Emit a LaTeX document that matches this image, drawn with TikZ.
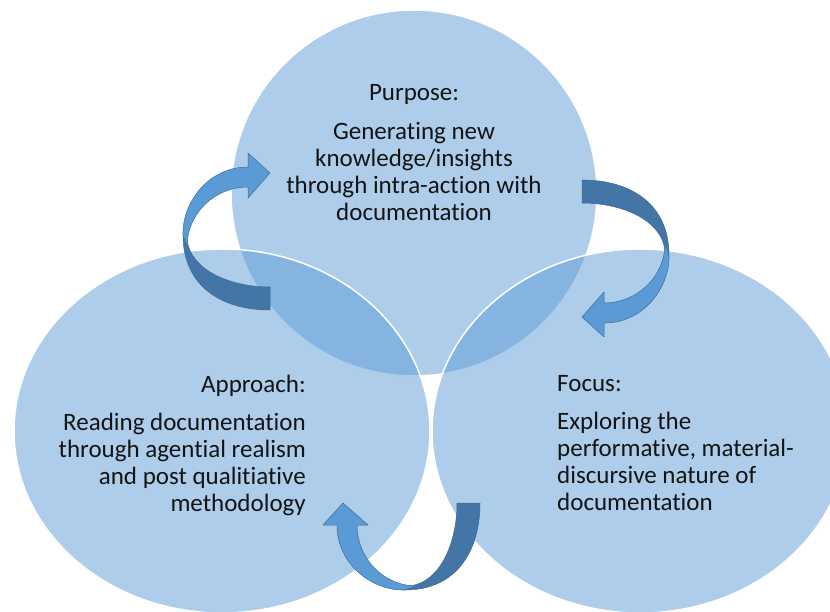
\documentclass[tikz,border=0pt]{standalone}
\usepackage{fontspec}
\setmainfont{Carlito}[Ligatures=NoCommon]
\definecolor{accent}{RGB}{91, 155, 213}
\definecolor{arrowlight}{RGB}{91, 155, 213}
\definecolor{arrowdark}{RGB}{67, 117, 166}
\definecolor{arrowedge}{RGB}{60, 108, 152}
\definecolor{ink}{RGB}{20, 20, 20}
\def\rtop{183pt}
\def\rxlow{208pt}
\def\rylow{182pt}
\tikzset{
  venn/.style={fill=accent, fill opacity=0.5, draw=white, line width=1.5pt},
  blurb/.style={inner sep=0pt, text=ink, font=\fontsize{25}{27}\selectfont,
    execute at begin node={\rule{0pt}{20pt}}},
  pics/turnarrow/.style={code={
    \path[fill=arrowdark, draw=arrowedge, line width=0.5pt] (0, 137)
      .. controls (-50, 137) and (-87, 112) .. (-87, 62) --
      (-83, 66) .. controls (-80, 97) and (-40, 114) .. (0, 114) -- cycle;
    \path[fill=arrowlight, draw=arrowedge, line width=0.5pt] (-87, 62)
      .. controls (-88, 30) and (-62, -6) .. (-22, -6) --
      (-22, -20) -- (0, 0) -- (-22, 25) --
      (-22, 14) .. controls (-55, 14) and (-83, 40) .. (-83, 74) -- cycle;
  }}
}

\begin{document}
\begin{tikzpicture}[x=1pt, y=-1pt, line cap=round, line join=round]

  \useasboundingbox (0, 0) rectangle (830, 612);
  \clip (0, 0) rectangle (830, 612);

  \path[venn] (414, 193) circle[radius=\rtop];
  \path[venn] (222, 431) ellipse[x radius=\rxlow, y radius=\rylow];
  \path[venn] (640, 431) ellipse[x radius=\rxlow, y radius=\rylow];

  \pic (toleft) at (270, 173) {turnarrow};
  \pic[rotate=180] (toright) at (582, 317) {turnarrow};
  \pic[rotate=90] (tobottom) at (343, 503) {turnarrow};

  \node[blurb, align=center, anchor=north] (purpose) at (414, 84)
    {Purpose:\\[12pt]Generating new\\knowledge/insights\\through intra-action with\\documentation};
  \node[blurb, align=right, anchor=north east] (approach) at (306, 375)
    {Approach:\\[11pt]Reading documentation\\through agential realism\\and post qualitiative\\methodology};
  \node[blurb, align=left, anchor=north west] (focus) at (557, 375)
    {Focus:\\[11pt]Exploring the\\performative, material-\\discursive nature of\\documentation};

\end{tikzpicture}
\end{document}
